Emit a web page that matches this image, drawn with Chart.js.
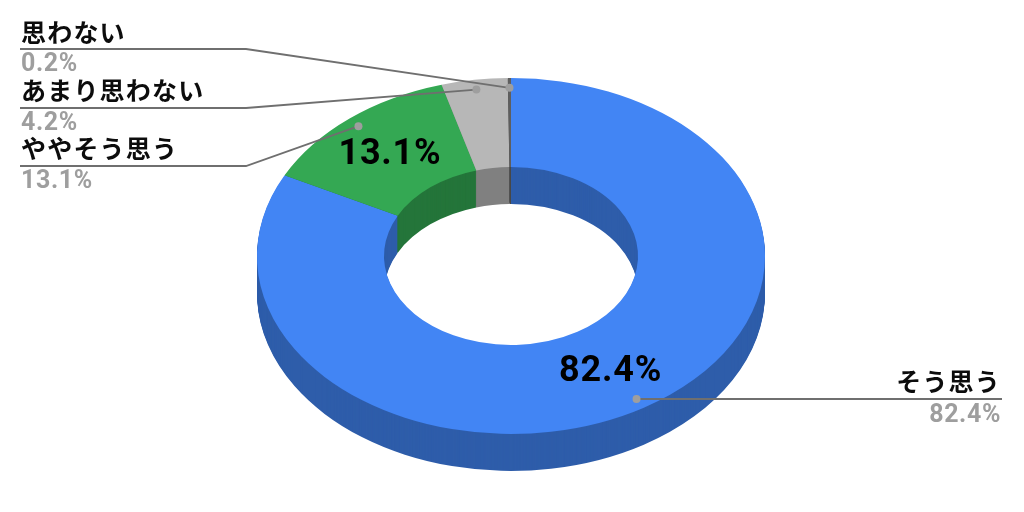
<!DOCTYPE html>
<html lang="ja">
<head>
<meta charset="utf-8">
<title>円グラフ</title>
<style>
    html, body { margin: 0; padding: 0; background: #fff; }
    canvas { display: block; }
</style>
<script src="https://cdn.jsdelivr.net/npm/chart.js@4"></script>
</head>
<body>
<canvas id="chart" width="1024" height="512"></canvas>
<script>
const categories = ['そう思う', 'ややそう思う', 'あまり思わない', '思わない'];
const values = [82.4, 13.1, 4.2, 0.2];
const topColors = ['#4285f4', '#34a853', '#b7b7b7', '#5e5e5e'];
const wallColors = ['#2e5daa', '#24753a', '#808080', '#474747'];

// 3d look: the ring is squashed and stacked downwards
const squash = 178 / 254;
const depth = 37;

// where each leader label sits
const labelSpots = [
    { x: 1001, title: 381, line: 399, value: 416, elbow: null, align: 'right' },
    { x: 21, title: 148, line: 166, value: 182, elbow: 246, align: 'left' },
    { x: 21, title: 90, line: 108, value: 124, elbow: 246, align: 'left' },
    { x: 21, title: 32, line: 49, value: 65, elbow: 246, align: 'left' }
];

const pct = (v) => v.toFixed(1) + '%';

function squashAround(ctx, cx, cy, shift) {
    ctx.translate(cx, cy + shift);
    ctx.scale(1, squash);
    ctx.translate(-cx, -cy);
}

// point on a slice at its middle angle, in screen pixels
function slicePoint(arc, radius) {
    const mid = (arc.startAngle + arc.endAngle) / 2;
    return {
        x: arc.x + Math.cos(mid) * radius,
        y: arc.y + Math.sin(mid) * radius * squash
    };
}

const ring3d = {
    id: 'ring3d',
    beforeDatasetsDraw(chart) {
        const ctx = chart.ctx;
        const arcs = chart.getDatasetMeta(0).data;
        const { x, y } = arcs[0];
        for (let d = depth; d > 0; d--) {
            arcs.forEach((arc, i) => {
                const wall = Object.create(arc);
                wall.options = Object.assign({}, arc.options, { backgroundColor: wallColors[i] });
                ctx.save();
                squashAround(ctx, x, y, d);
                arc.constructor.prototype.draw.call(wall, ctx);
                ctx.restore();
            });
        }
    },
    beforeDatasetDraw(chart) {
        const arc = chart.getDatasetMeta(0).data[0];
        chart.ctx.save();
        squashAround(chart.ctx, arc.x, arc.y, 0);
    },
    afterDatasetDraw(chart) {
        chart.ctx.restore();
    },
    afterDatasetsDraw(chart) {
        const ctx = chart.ctx;
        const arcs = chart.getDatasetMeta(0).data;
        ctx.textBaseline = 'middle';

        // leader lines and labels
        arcs.forEach((arc, i) => {
            const spot = labelSpots[i];
            const dot = slicePoint(arc, arc.outerRadius * 0.945);
            const lineEnd = spot.align === 'left' ? spot.x - 1 : spot.x + 1;

            ctx.strokeStyle = '#6f6f6f';
            ctx.lineWidth = 1.8;
            ctx.beginPath();
            ctx.moveTo(lineEnd, spot.line);
            if (spot.elbow !== null) {
                ctx.lineTo(spot.elbow, spot.line);
                ctx.lineTo(dot.x, dot.y);
            } else {
                ctx.lineTo(dot.x, spot.line);
            }
            ctx.stroke();

            ctx.fillStyle = '#9e9e9e';
            ctx.beginPath();
            ctx.arc(dot.x, spot.elbow !== null ? dot.y : spot.line, 4, 0, Math.PI * 2);
            ctx.fill();

            ctx.textAlign = spot.align;
            ctx.letterSpacing = '1.2px';
            ctx.fillStyle = '#0c0c0c';
            ctx.font = '700 25px "Noto Sans CJK JP"';
            ctx.fillText(categories[i], spot.x, spot.title);

            ctx.letterSpacing = '0.6px';
            ctx.fillStyle = '#9e9e9e';
            ctx.font = '700 25px Roboto';
            ctx.fillText(pct(values[i]), spot.x, spot.value);
        });

        // percentages on the two big slices
        arcs.forEach((arc, i) => {
            if (values[i] < 5) return;
            const p = slicePoint(arc, (arc.innerRadius + arc.outerRadius) / 2);
            ctx.textAlign = 'center';
            ctx.letterSpacing = '0.8px';
            ctx.fillStyle = '#000';
            ctx.font = '700 36px Roboto';
            ctx.fillText(pct(values[i]), p.x, p.y + 2);
        });
    }
};

new Chart(document.getElementById('chart'), {
    type: 'doughnut',
    data: {
        labels: categories,
        datasets: [{
            data: values,
            backgroundColor: topColors,
            borderWidth: 0,
            hoverOffset: 0
        }]
    },
    options: {
        responsive: false,
        animation: false,
        cutout: '50%',
        layout: { padding: { top: 2, bottom: 2, left: 0, right: 2 } },
        plugins: {
            legend: { display: false },
            tooltip: { enabled: false }
        }
    },
    plugins: [ring3d]
});
</script>
</body>
</html>
